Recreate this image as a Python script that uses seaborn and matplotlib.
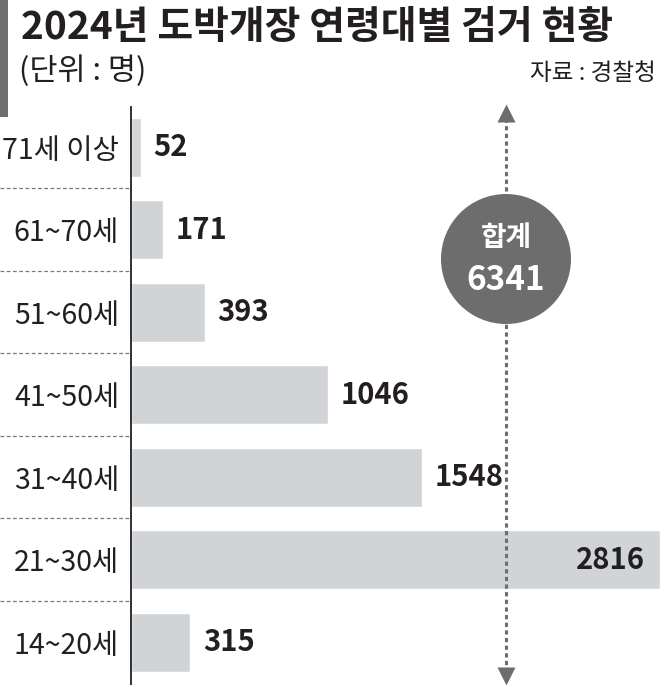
import numpy as np
import matplotlib.pyplot as plt
import matplotlib.transforms as mtransforms
from matplotlib.patches import Circle, Rectangle
import seaborn as sns

# =============================================
# Дані
# =============================================
age_groups = ['71세 이상', '61~70세', '51~60세', '41~50세', '31~40세', '21~30세', '14~20세']
counts = [52, 171, 393, 1046, 1548, 2816, 315]

title = '2024년 도박개장 연령대별 검거 현황'
unit_text = '(단위 : 명)'
source_text = '자료 : 경찰청'
total_label = '합계'

BAR = '#d1d4d7'
INK = '#231f20'
GRAY = '#6d6d6d'

sns.set_theme(style='white')
plt.rcParams['font.family'] = ['Noto Sans CJK KR', 'DejaVu Sans']

W, H = 661, 685
fig = plt.figure(figsize=(W / 100, H / 100), dpi=100)
fig.patch.set_facecolor('white')

# основна вісь: від x=131px до правого краю, від y=107px до низу
ax = fig.add_axes([131 / W, 0, (W - 131) / W, (H - 107) / H])
sns.barplot(x=counts, y=age_groups, orient='h', color=BAR, width=0.715,
            saturation=1, ax=ax)
ax.set_xlim(0, (W - 131) / 0.188)
ax.set_ylim(6.52, -0.485)
ax.set_xlabel('')
ax.set_ylabel('')
ax.set_xticks([])
for side in ['top', 'right', 'bottom']:
    ax.spines[side].set_visible(False)
ax.spines['left'].set_color(INK)
ax.spines['left'].set_linewidth(1.3)
ax.tick_params(axis='y', length=0, pad=8.5, labelsize=20.5, labelcolor=INK)

# підписи значень
vmax = max(counts)
for i, v in enumerate(counts):
    if v == vmax:
        ax.annotate(f'{v}', xy=(v, i), xytext=(-11, 0), textcoords='offset points',
                    ha='right', va='center', fontsize=21, fontweight='bold', color=INK)
    else:
        ax.annotate(f'{v}', xy=(v, i), xytext=(9, 0), textcoords='offset points',
                    ha='left', va='center', fontsize=21, fontweight='bold', color=INK)

# пунктирні роздільники зліва
trans = mtransforms.blended_transform_factory(fig.transFigure, ax.transData)
for k in range(len(age_groups) - 1):
    ax.plot([0, 130 / W], [k + 0.5, k + 0.5], transform=trans, clip_on=False,
            color='#7a7a7a', lw=0.9, linestyle=(0, (3, 2)))

# =============================================
# Оформлення (координати в пікселях)
# =============================================
deco = fig.add_axes([0, 0, 1, 1], zorder=3)
deco.set_xlim(0, W)
deco.set_ylim(H, 0)
deco.axis('off')
deco.patch.set_alpha(0)

deco.add_patch(Rectangle((0, 0), 8, 117, color='#6f6f6f', lw=0))
deco.text(21, 39, title, fontsize=28, fontweight='bold', color=INK, va='baseline', ha='left')
deco.text(19, 71, unit_text, fontsize=22, color=INK, va='center', ha='left')
deco.text(656, 73, source_text, fontsize=17, color=INK, va='center', ha='right')

# стрілка з пунктиром
lx = 506
deco.plot([lx, lx], [118, 672], color=GRAY, lw=2.2, linestyle=(0, (1.4, 1.1)))
deco.plot([lx], [113], marker='^', ms=13, color=GRAY, mec='none')
deco.plot([lx], [676], marker='v', ms=13, color=GRAY, mec='none')

deco.add_patch(Circle((lx, 259), 65, color=GRAY, lw=0, zorder=4))
deco.text(lx, 238, total_label, fontsize=20, fontweight='bold', color='white',
          ha='center', va='center', zorder=5)
deco.text(lx, 280, f'{sum(counts)}', fontsize=24, fontweight='bold', color='white',
          ha='center', va='center', zorder=5)

fig.savefig('out.png', dpi=100)
